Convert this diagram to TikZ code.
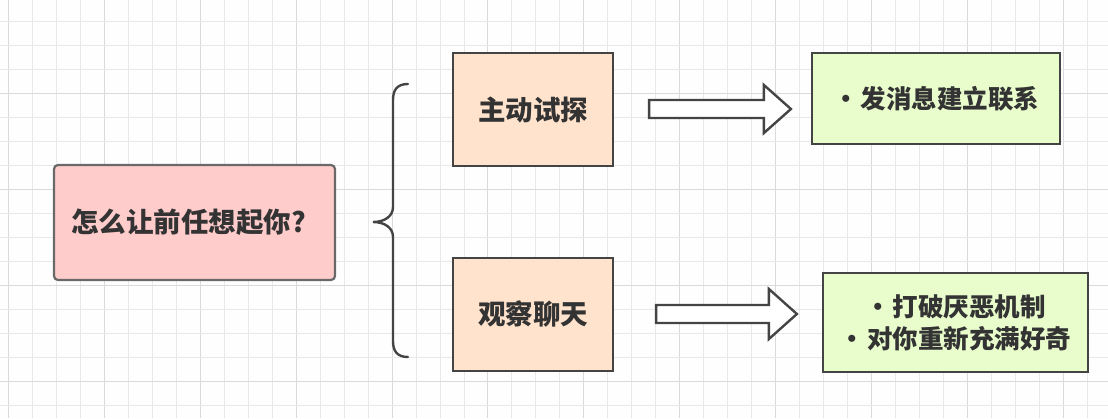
\documentclass[tikz,border=0pt]{standalone}
\usepackage{fontspec}
\newfontfamily\cjk{Noto Sans CJK SC}
\usetikzlibrary{calc}
\definecolor{gridminor}{HTML}{E8E8EA}
\definecolor{gridmajor}{HTML}{DADADC}
\definecolor{edge}{HTML}{444444}
\definecolor{txt}{HTML}{333333}
\definecolor{pinkfill}{HTML}{FFCCCC}
\definecolor{peachfill}{HTML}{FFE3CC}
\definecolor{greenfill}{HTML}{E8FCCC}
\tikzset{
  box/.style={draw=edge, line width=2.2pt, text=txt, font=\cjk\bfseries\fontsize{27.5}{32}\selectfont, inner sep=0pt, align=center},
  mainbox/.style={box, fill=pinkfill, draw=edge!80, rounded corners=4pt, minimum width=281pt, minimum height=115pt},
  midbox/.style={box, fill=peachfill, minimum width=160pt, minimum height=113pt},
  resbox/.style={box, fill=greenfill, font=\cjk\bfseries\fontsize{25.5}{32}\selectfont},
  blockarrow/.style={draw=edge, line width=2.4pt, fill=white, line join=miter},
  bracestyle/.style={draw=edge, line width=2.4pt, line cap=round}
}
\begin{document}
\begin{tikzpicture}[x=1pt,y=-1pt]
\fill[white!99!gray] (0,0) rectangle (1108,418);
\useasboundingbox (0,0) rectangle (1108,418);
% grid
\foreach \i in {0,...,46} {
  \pgfmathsetmacro\xx{8.3+23.98*\i}
  \pgfmathtruncatemacro\m{mod(\i,4)}
  \ifnum\m=0 \draw[gridmajor,line width=0.9pt] (\xx,0) -- (\xx,418);
  \else \draw[gridminor,line width=0.8pt] (\xx,0) -- (\xx,418); \fi
}
\foreach \j in {0,...,17} {
  \pgfmathsetmacro\yy{-2.7+24*\j}
  \pgfmathtruncatemacro\m{mod(\j,4)}
  \ifnum\m=0 \draw[gridmajor,line width=0.9pt] (0,\yy) -- (1108,\yy);
  \else \draw[gridminor,line width=0.8pt] (0,\yy) -- (1108,\yy); \fi
}
% nodes
\node[mainbox] (main) at (194.5,222.5) {怎么让前任想起你?\hspace{12pt}};
\node[midbox] (a) at (533,109.5) {主动试探};
\node[midbox] (b) at (533,314.5) {观察聊天};
\node[resbox, minimum width=248pt, minimum height=91pt] (ra) at (936,98.5) {•\hspace{2pt}发消息建立联系};
\node[resbox, minimum width=265pt, minimum height=99pt] (rb) at (955.5,322.5) {•\hspace{2pt}打破厌恶机制\\•\hspace{2pt}对你重新充满好奇};
% brace
\coordinate (bt) at (408,84);
\coordinate (bm) at (373,222);
\coordinate (bb) at (408,357);
\draw[bracestyle] (bt) .. controls (397,84) and (393,90) .. (393,100) -- (393,207)
  .. controls (393,216) and (385,222) .. (bm)
  .. controls (385,222) and (393,228) .. (393,237) -- (393,341)
  .. controls (393,351) and (397,357) .. (bb);
% block arrows
\coordinate (s1) at ($(a.east)+(35,-0.5)$);
\coordinate (e1) at ($(ra.west)+(-20,10.5)$);
\coordinate (s2) at ($(b.east)+(42,-0.5)$);
\coordinate (e2) at ($(rb.west)+(-25,-8.5)$);
\draw[blockarrow] ($(s1)+(0,-9)$) -- ($(e1)+(-27,-9)$) -- ($(e1)+(-27,-24)$) -- (e1)
  -- ($(e1)+(-27,24)$) -- ($(e1)+(-27,9)$) -- ($(s1)+(0,9)$) -- cycle;
\draw[blockarrow] ($(s2)+(0,-9)$) -- ($(e2)+(-28,-9)$) -- ($(e2)+(-28,-25)$) -- (e2)
  -- ($(e2)+(-28,25)$) -- ($(e2)+(-28,9)$) -- ($(s2)+(0,9)$) -- cycle;
\end{tikzpicture}
\end{document}
